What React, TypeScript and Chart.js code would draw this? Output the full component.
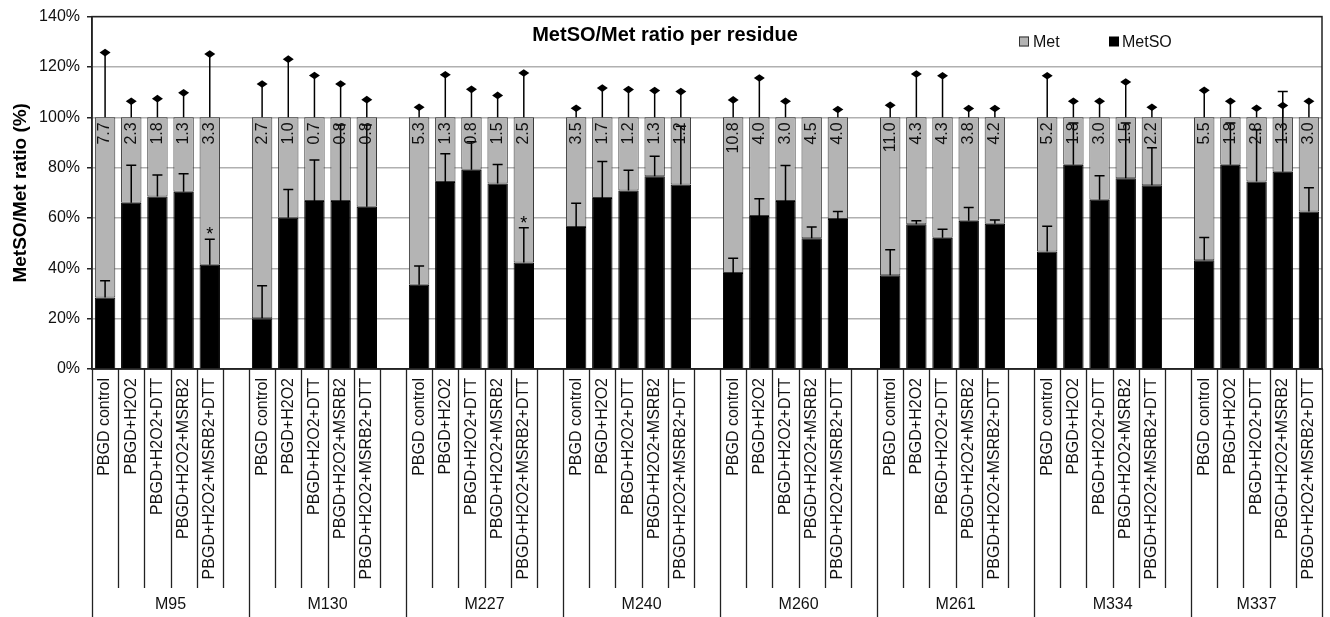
import React, { useEffect, useRef } from 'react';
import { Chart, registerables } from 'chart.js';

Chart.register(...registerables);

// ---------- data ----------
const residues = ['M95', 'M130', 'M227', 'M240', 'M260', 'M261', 'M334', 'M337'];
const treatments = [
  'PBGD control',
  'PBGD+H2O2',
  'PBGD+H2O2+DTT',
  'PBGD+H2O2+MSRB2',
  'PBGD+H2O2+MSRB2+DTT',
];

// MetSO share (%) per bar, one row per residue
const metsoPct = [
  28.4, 66.0, 68.5, 70.4, 41.4, // M95
  20.2, 60.1, 66.7, 66.7, 64.5, // M130
  33.5, 74.3, 79.2, 73.7, 42.3, // M227
  56.4, 67.9, 70.9, 76.6, 73.3, // M240
  38.1, 60.8, 66.7, 51.9, 59.6, // M260
  37.2, 57.5, 52.1, 58.9, 57.7, // M261
  46.7, 81.1, 67.2, 75.8, 73.0, // M334
  43.2, 81.1, 74.5, 78.4, 62.6, // M337
];

// upper error of MetSO (%)
const metsoErr = [
  6.7, 14.9, 8.6, 7.2, 10.1,
  12.9, 11.2, 16.3, 30.2, 32.4,
  7.4, 11.2, 11.1, 7.5, 13.8,
  9.4, 14.5, 8.1, 7.9, 23.1,
  5.9, 6.8, 14.1, 4.5, 3.0,
  10.2, 1.4, 3.4, 5.3, 1.5,
  10.0, 16.6, 9.6, 21.9, 14.9,
  9.0, 16.6, 20.5, 31.8, 9.4,
];

// upper error of Met (%), drawn above 100 %
const metErr = [
  25.7, 6.4, 7.4, 9.7, 25.1,
  13.2, 23.1, 16.6, 13.2, 7.0,
  4.0, 16.9, 11.1, 8.7, 17.6,
  3.6, 11.6, 11.0, 10.6, 10.2,
  6.9, 15.6, 6.4, 0, 3.1,
  4.8, 17.2, 16.5, 3.5, 3.5,
  16.5, 6.4, 6.4, 14.0, 4.0,
  10.7, 6.4, 3.6, 4.7, 6.4,
];

// value labels printed in the Met segment
const ratioLabels = [
  '7.7', '2.3', '1.8', '1.3', '3.3',
  '2.7', '1.0', '0.7', '0.8', '0.8',
  '5.3', '1.3', '0.8', '1.5', '2.5',
  '3.5', '1.7', '1.2', '1.3', '1.2',
  '10.8', '4.0', '3.0', '4.5', '4.0',
  '11.0', '4.3', '4.3', '3.8', '4.2',
  '5.2', '1.8', '3.0', '1.5', '2.2',
  '5.5', '1.8', '2.8', '1.3', '3.0',
];

// bars marked with an asterisk
const significantBars = [4, 14];

const yTickValues = [0, 20, 40, 60, 80, 100, 120, 140];

const FONT = '"Liberation Sans", Arial, Helvetica, sans-serif';

// ---------- category slots (5 bars + 1 blank between residues) ----------
const slotLabels: string[] = [];
const slotBar: (number | null)[] = [];
residues.forEach((_, g) => {
  treatments.forEach((t, k) => {
    slotLabels.push(t);
    slotBar.push(g * 5 + k);
  });
  if (g < residues.length - 1) {
    slotLabels.push('');
    slotBar.push(null);
  }
});
const metsoData = slotBar.map((b) => (b === null ? null : metsoPct[b]));
const metData = slotBar.map((b) => (b === null ? null : +(100 - metsoPct[b]).toFixed(1)));

const overlayPlugin = {
  id: 'overlay',
  afterDatasetsDraw(chart: any) {
    const { ctx, chartArea: ca, scales } = chart;
    const x = scales.x;
    const y = scales.y;
    ctx.save();

    // frame
    ctx.strokeStyle = '#222';
    ctx.lineWidth = 1.5;
    ctx.strokeRect(ca.left, ca.top, ca.right - ca.left, ca.bottom - ca.top);

    const y100 = y.getPixelForValue(100);

    slotBar.forEach((b, i) => {
      if (b === null) return;
      const cx = x.getPixelForValue(i);
      ctx.strokeStyle = '#000';
      ctx.fillStyle = '#000';
      ctx.lineWidth = 1.5;

      // MetSO error bar (T cap)
      const e0 = y.getPixelForValue(metsoPct[b]);
      const e1 = y.getPixelForValue(metsoPct[b] + metsoErr[b]);
      ctx.beginPath();
      ctx.moveTo(cx, e0);
      ctx.lineTo(cx, e1);
      ctx.moveTo(cx - 5, e1);
      ctx.lineTo(cx + 5, e1);
      ctx.stroke();

      // Met error bar (diamond cap)
      if (metErr[b] > 0) {
        const m1 = y.getPixelForValue(100 + metErr[b]);
        ctx.beginPath();
        ctx.moveTo(cx, y100);
        ctx.lineTo(cx, m1);
        ctx.stroke();
        ctx.beginPath();
        ctx.moveTo(cx - 5.5, m1);
        ctx.lineTo(cx, m1 - 3.8);
        ctx.lineTo(cx + 5.5, m1);
        ctx.lineTo(cx, m1 + 3.8);
        ctx.closePath();
        ctx.fill();
      }

      // value label (rotated)
      ctx.save();
      ctx.translate(cx, y100 + 5);
      ctx.rotate(-Math.PI / 2);
      ctx.font = `16px ${FONT}`;
      ctx.fillStyle = '#111';
      ctx.textAlign = 'right';
      ctx.textBaseline = 'middle';
      ctx.fillText(ratioLabels[b], 0, 0);
      ctx.restore();

      if (significantBars.includes(b)) {
        ctx.font = `18px ${FONT}`;
        ctx.textAlign = 'center';
        ctx.textBaseline = 'alphabetic';
        ctx.fillStyle = '#000';
        ctx.fillText('*', cx, e1 + 1);
      }
    });

    // category dividers and residue labels
    const nSlots = slotLabels.length;
    const sw = (ca.right - ca.left) / nSlots;
    const groupBounds = [0];
    residues.forEach((_, g) => groupBounds.push(Math.min(nSlots, (g + 1) * 6)));
    ctx.strokeStyle = '#222';
    ctx.lineWidth = 1.3;
    for (let k = 0; k <= nSlots; k++) {
      const xx = Math.round(ca.left + k * sw) + 0.5;
      const isGroup = groupBounds.includes(k);
      ctx.beginPath();
      ctx.moveTo(xx, ca.bottom);
      ctx.lineTo(xx, isGroup ? chart.height : 588);
      ctx.stroke();
    }
    ctx.font = `16px ${FONT}`;
    ctx.fillStyle = '#111';
    ctx.textAlign = 'center';
    ctx.textBaseline = 'middle';
    residues.forEach((r, g) => {
      const a = ca.left + groupBounds[g] * sw;
      const c = ca.left + groupBounds[g + 1] * sw;
      ctx.fillText(r, (a + c) / 2, 605);
    });

    // title
    ctx.font = `bold 20px ${FONT}`;
    ctx.fillStyle = '#000';
    ctx.textAlign = 'center';
    ctx.textBaseline = 'alphabetic';
    ctx.fillText('MetSO/Met ratio per residue', chart.width / 2, 41);

    // legend
    ctx.font = `16px ${FONT}`;
    ctx.textAlign = 'left';
    ctx.lineWidth = 1;
    ctx.fillStyle = '#b4b4b4';
    ctx.fillRect(1019, 36.5, 10, 10);
    ctx.strokeStyle = '#333';
    ctx.strokeRect(1019.5, 37, 9, 9);
    ctx.fillStyle = '#111';
    ctx.fillText('Met', 1033, 47);
    ctx.fillStyle = '#000';
    ctx.fillRect(1109, 36.5, 10, 10);
    ctx.fillStyle = '#111';
    ctx.fillText('MetSO', 1122, 47);

    ctx.restore();
  },
};

export default function App() {
  const ref = useRef<HTMLCanvasElement | null>(null);

  useEffect(() => {
    if (!ref.current) return;
    const chart = new Chart(ref.current, {
      type: 'bar',
      data: {
        labels: slotLabels,
        datasets: [
          {
            label: 'MetSO',
            data: metsoData as any,
            backgroundColor: '#000000',
            borderColor: '#000000',
            borderWidth: 1,
            categoryPercentage: 1,
            barPercentage: 0.78,
          },
          {
            label: 'Met',
            data: metData as any,
            backgroundColor: '#b4b4b4',
            borderColor: '#3a3a3a',
            borderWidth: 1,
            borderSkipped: false,
            categoryPercentage: 1,
            barPercentage: 0.78,
          },
        ],
      },
      options: {
        responsive: false,
        animation: false,
        events: [],
        layout: { padding: { top: 15, right: 8, left: 0, bottom: 0 } },
        plugins: {
          legend: { display: false },
          tooltip: { enabled: false },
          title: { display: false },
        },
        scales: {
          x: {
            stacked: true,
            grid: { display: false, drawTicks: false },
            border: { display: true, color: '#222', width: 1.5 },
            ticks: {
              autoSkip: false,
              minRotation: 90,
              maxRotation: 90,
              padding: 9,
              color: '#111',
              font: { family: FONT, size: 16 },
            },
            afterFit: (scale: any) => {
              scale.height = 248;
              scale.paddingLeft = 0;
              scale.paddingRight = 0;
            },
          },
          y: {
            stacked: true,
            min: 0,
            max: 140,
            afterBuildTicks: (scale: any) => {
              scale.ticks = yTickValues.map((v) => ({ value: v }));
            },
            grid: {
              color: '#b0b0b0',
              lineWidth: 1.5,
              tickColor: '#222',
              tickLength: 5,
              drawTicks: true,
            },
            border: { display: true, color: '#222', width: 1.5 },
            ticks: {
              padding: 7,
              color: '#111',
              font: { family: FONT, size: 16 },
              callback: (v: any) => `${v}%`,
            },
            title: {
              display: true,
              text: 'MetSO/Met ratio (%)',
              color: '#000',
              font: { family: FONT, size: 19, weight: 'bold' },
              padding: { top: 9, bottom: 0 },
            },
            afterFit: (scale: any) => {
              scale.width = 92;
            },
          },
        },
      },
      plugins: [overlayPlugin],
    });
    return () => chart.destroy();
  }, []);

  return (
    <div style={{ position: 'fixed', left: 0, top: 0, width: 1330, height: 617, background: '#fff' }}>
      <canvas ref={ref} width={1330} height={617} style={{ display: 'block' }} />
    </div>
  );
}
